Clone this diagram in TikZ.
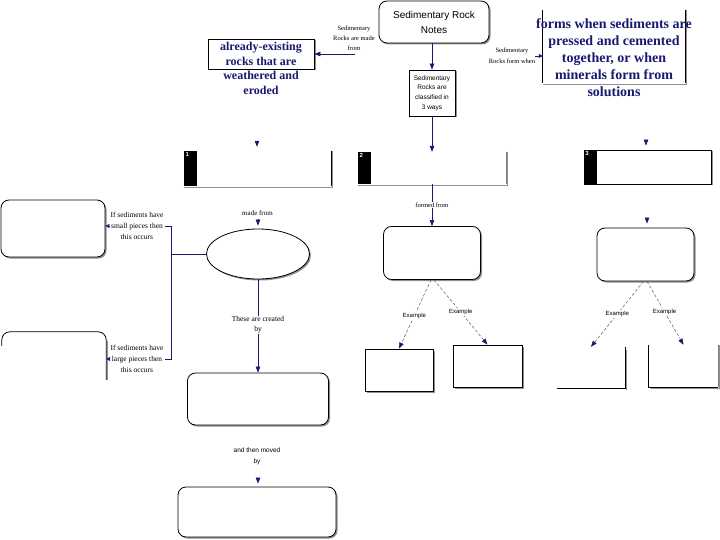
\documentclass[tikz,border=0pt]{standalone}
\usepackage{fontspec}
\setmainfont{Liberation Serif}
\setsansfont{Liberation Sans}
\usetikzlibrary{arrows.meta,shapes.geometric,shadows}
\definecolor{navy}{RGB}{25,25,112}
\definecolor{shade}{RGB}{150,140,140}
\begin{document}
\begin{tikzpicture}[x=1pt,y=-1pt,
  arr/.style={draw=navy, line width=0.6pt, -{Triangle[width=4.5pt,length=6pt]}},
  arrs/.style={draw=navy, line width=0.6pt, -{Triangle[width=4pt,length=4pt]}},
  dot/.style={draw=gray!60!navy, line width=0.5pt, densely dashed, -{Triangle[width=4.5pt,length=6pt,color=navy]}},
  conn/.style={draw=navy, line width=0.6pt},
  shadowed/.style={drop shadow={shadow xshift=1.5pt, shadow yshift=-1.5pt, fill=shade, opacity=1}},
  rbox/.style={draw=black, line width=0.8pt, rounded corners=8pt, fill=white, shadowed, inner sep=0pt},
  sbox/.style={draw=black, line width=0.8pt, fill=white, shadowed, inner sep=0pt},
  blank/.style={draw=none, inner sep=0pt},
  lbl/.style={align=center, inner sep=1pt, fill=white},
  serifsm/.style={font=\fontsize{6.5}{10}\selectfont},
  sidelbl/.style={font=\fontsize{7.5}{11}\selectfont},
  exl/.style={lbl, font=\sffamily\fontsize{6}{7}\selectfont},
  bigA/.style={font=\bfseries\fontsize{12}{14.5}\selectfont, text=navy, align=center, inner sep=0pt},
  bigB/.style={font=\bfseries\fontsize{14}{17}\selectfont, text=navy, align=center, inner sep=0pt},
  num/.style={font=\sffamily\bfseries\fontsize{6}{6}\selectfont, text=white, anchor=north west, inner sep=1.5pt},
  edge/.style={line width=0.8pt},
  shadeedge/.style={draw=shade, line width=1.3pt}
]
\useasboundingbox (0,0) rectangle (720,540);
\fill[white] (0,0) rectangle (720,540);

% title
\node[rbox, minimum width=110pt, minimum height=42pt, font=\sffamily\fontsize{10}{15}\selectfont, align=center] (title) at (434,22) {Sedimentary Rock\\Notes};

% already-existing box
\node[sbox, minimum width=106pt, minimum height=30pt] (ae) at (261,54) {};
\node[bigA] (aetext) at (261,68.5) {already-existing\\rocks that are\\weathered and\\eroded};
\node[lbl, serifsm] (lbl1) at (354,38) {Sedimentary\\Rocks are made\\from};
\coordinate (a1s) at (355,54);
\draw[arr] (a1s) -- (a1s -| ae.east);

% forms when box
\node[blank, minimum width=142pt, minimum height=73pt] (fw) at (614,46.5) {};
\draw[shadeedge] ([yshift=-1pt]fw.south west) -- ([xshift=1.5pt,yshift=-1pt]fw.south east) -- ([xshift=1.5pt]fw.north east);
\draw[edge] (fw.north west) -- (fw.south west);
\draw[edge] (fw.north east) -- (fw.south east);
\node[bigB] (fwtext) at (614,58) {forms when sediments are\\pressed and cemented\\together, or when\\minerals form from\\solutions};
\node[lbl, inner sep=0pt, font=\fontsize{6.5}{11}\selectfont] (lbl2) at (512,56) {Sedimentary\\Rocks form when};
\draw[arrs] (lbl2.east) -- (lbl2.east -| fw.west);

% classified box
\node[sbox, minimum width=46pt, minimum height=46pt, font=\sffamily\fontsize{6.5}{9.7}\selectfont, align=center] (cl) at (432,93) {Sedimentary\\Rocks are\\classified in\\3 ways};
\draw[arr] (title.south -| cl.north) -- (cl.north);

% numbered boxes
\node[blank, minimum width=147pt, minimum height=35pt] (b1) at (257.5,168.5) {};
\fill[black] (b1.north west) rectangle ([xshift=13pt]b1.south west);
\node[num] (n1) at (b1.north west) {1};
\draw[shadeedge] ([yshift=-1pt]b1.south west) -- ([xshift=1.5pt,yshift=-1pt]b1.south east) -- ([xshift=1.5pt]b1.north east);
\draw[edge] (b1.north east) -- (b1.south east);

\node[blank, minimum width=148pt, minimum height=32pt] (b2) at (432,168) {};
\fill[black] (b2.north west) rectangle ([xshift=13pt]b2.south west);
\node[num] (n2) at (b2.north west) {2};
\draw[shadeedge] ([yshift=-1pt]b2.south west) -- ([xshift=1.5pt,yshift=-1pt]b2.south east) -- ([xshift=1.5pt]b2.north east);
\draw[line width=0.6pt, draw=gray] (b2.north east) -- (b2.south east);

\node[sbox, minimum width=127pt, minimum height=34pt] (b3) at (647.5,167) {};
\fill[black] (b3.north west) rectangle ([xshift=13pt]b3.south west);
\node[num] (n3) at (b3.north west) {3};

\draw[arr] (cl.south) -- (b2.north);
\coordinate (t1) at (257,141);
\draw[arr, shorten >=4pt] (t1) -- (t1 |- b1.north);
\coordinate (t2) at (646,140);
\draw[arr, shorten >=4pt] (t2) -- (t2 |- b3.north);

% column 2
\node[rbox, minimum width=97pt, minimum height=53pt] (ra) at (432,253) {};
\draw[arr] (b2.south) -- node[lbl, serifsm] (ff) {formed from} (ra.north);
\node[sbox, minimum width=68pt, minimum height=42pt] (c1) at (399,370) {};
\node[sbox, minimum width=69pt, minimum height=42pt] (c2) at (487.5,366) {};
\draw[dot] ([xshift=-1pt]ra.south) -- node[exl, pos=0.52] (e1) {Example} (c1.north);
\draw[dot] ([xshift=2pt]ra.south) -- node[exl, pos=0.5] (e2) {Example} (c2.north);

% column 3
\node[rbox, minimum width=97pt, minimum height=53pt] (rb) at (645.5,254.5) {};
\coordinate (t3) at (647,218);
\draw[arr, shorten >=4pt] (t3) -- (t3 |- rb.north);
\node[blank, minimum width=68pt, minimum height=41pt] (d1) at (591,367.5) {};
\draw[shadeedge] ([xshift=1.5pt,yshift=-3pt]d1.north east) -- ([xshift=1.5pt,yshift=-1.5pt]d1.south east);
\draw[edge] (d1.north east) -- (d1.south east) -- (d1.south west);
\node[blank, minimum width=69pt, minimum height=42pt] (d2) at (683.5,366) {};
\draw[shadeedge] ([xshift=1.5pt]d2.north east) -- ([xshift=1.5pt,yshift=-1.5pt]d2.south east) -- ([xshift=2pt,yshift=-1.5pt]d2.south west);
\draw[edge] (d2.north west) -- (d2.south west) -- (d2.south east);
\draw[line width=0.6pt, draw=gray] (d2.south east) -- (d2.north east);
\draw[dot] ([xshift=-2pt]rb.south) -- node[exl, pos=0.5] (e3) {Example} (d1.north);
\draw[dot] ([xshift=1.5pt]rb.south) -- node[exl, pos=0.48] (e4) {Example} (d2.north);

% column 1
\node[draw=black, line width=0.8pt, ellipse, minimum width=103pt, minimum height=50pt, fill=white, shadowed, inner sep=0pt] (ov) at (258,254) {};
\node[lbl, font=\fontsize{7}{9}\selectfont] (mf) at (257.5,213) {made from};
\coordinate (t4) at (258,219);
\draw[arr, shorten >=3pt] (t4) -- (t4 |- ov.north);
\node[rbox, minimum width=141pt, minimum height=52pt] (re) at (258,399) {};
\draw[arr] (ov.south) -- node[lbl, font=\fontsize{7.5}{10}\selectfont, pos=0.49] (cb) {These are created\\by} (re.north);
\node[lbl, font=\sffamily\fontsize{6.5}{11}\selectfont] (mb) at (257,456.5) {and then moved\\by};
\node[rbox, minimum width=158pt, minimum height=50pt] (rf) at (257,512) {};
\coordinate (t5) at (258,478);
\draw[arr, shorten >=3pt] (t5) -- (t5 |- rf.north);

% left side
\node[rbox, minimum width=104pt, minimum height=57pt] (rg) at (53,228.5) {};
\node[lbl, sidelbl] (lblS) at (137,226) {If sediments have\\small pieces then\\this occurs};
\node[lbl, sidelbl] (lblL) at (137,359) {If sediments have\\large pieces then\\this occurs};
\coordinate (j1) at (171,226);
\coordinate (j2) at (171,359);
\draw[conn] (ov.west) -- (ov.west -| j1);
\draw[conn] (lblS.east) -| (j2) -- (lblL.east);
\draw[arrs] (lblS.west) -- (lblS.west -| rg.east);

\node[blank, minimum width=104pt, minimum height=60pt] (rh) at (54,362) {};
\draw[shadeedge] ([xshift=1.5pt,yshift=-9pt]rh.north east) -- ([xshift=1.5pt,yshift=-48pt]rh.north east);
\draw[edge, rounded corners=8pt] ([yshift=-14pt]rh.north west) -- (rh.north west) -- (rh.north east) -- ([yshift=-48pt]rh.north east);
\draw[arrs] (lblL.west) -- (lblL.west -| rh.east);
\end{tikzpicture}
\end{document}
